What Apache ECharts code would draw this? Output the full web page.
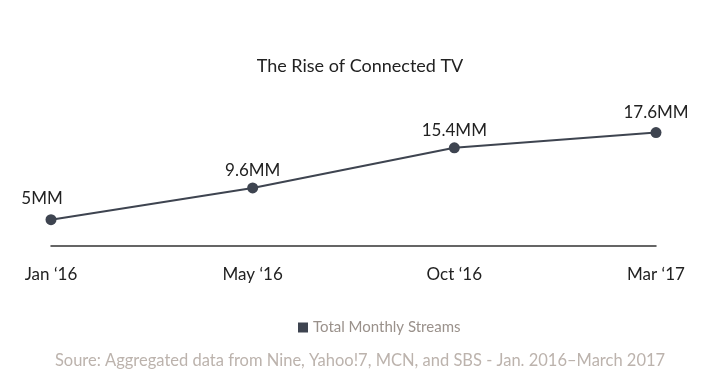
<!DOCTYPE html>
<html>
<head>
<meta charset="utf-8">
<script src="https://cdn.jsdelivr.net/npm/echarts@6/dist/echarts.min.js"></script>
<style>html,body{margin:0;padding:0;background:#fff}#c{width:720px;height:387px}</style>
</head>
<body>
<div id="c"></div>
<script>
const categories = ["Jan \u201816", "May \u201816", "Oct \u201816", "Mar \u201817"];
const streams = [5, 9.6, 15.4, 17.6];
const seriesName = "Total Monthly Streams";
const titleText = "The Rise of Connected TV";
const sourceText = "Soure: Aggregated data from Nine, Yahoo!7, MCN, and SBS - Jan. 2016\u2013March 2017";

const FONT = "Lato, 'Open Sans', sans-serif";
const chart = echarts.init(document.getElementById('c'), null, {renderer: 'canvas'});
chart.setOption({
  animation: false,
  backgroundColor: '#ffffff',
  title: [
    {text: titleText, left: 'center', top: 52,
     textStyle: {fontFamily: FONT, fontSize: 18, fontWeight: 'normal', color: '#222'}},
    {text: sourceText, left: 'center', top: 347,
     textStyle: {fontFamily: FONT, fontSize: 16.5, fontWeight: 'normal', color: '#bcb3ad'}}
  ],
  legend: {
    data: [seriesName], left: 293, top: 315,
    icon: 'rect', itemWidth: 10, itemHeight: 10, itemGap: 9,
    textStyle: {fontFamily: FONT, fontSize: 15, color: '#9a918b'}
  },
  grid: {left: 51, right: 64, top: 116, bottom: 141, containLabel: false},
  xAxis: {
    type: 'category', data: categories, boundaryGap: false,
    axisLine: {lineStyle: {color: '#333', width: 1.5}},
    axisTick: {show: false},
    axisLabel: {fontFamily: FONT, fontSize: 17, color: '#222', margin: 20}
  },
  yAxis: {
    type: 'value', min: 1.2, max: 20,
    show: false, splitLine: {show: false}
  },
  series: [{
    name: seriesName, type: 'line', data: streams,
    symbol: 'circle', symbolSize: 11,
    lineStyle: {color: '#3e4450', width: 2},
    itemStyle: {color: '#3e4450'},
    label: {
      show: true, position: 'top', distance: 3,
      formatter: p => p.value + 'MM',
      fontFamily: FONT, fontSize: 17, color: '#222'
    },
    labelLayout: function (params) {
      if (params.dataIndex === 0) {
        return {dx: -9, dy: -4};
      }
      if (params.dataIndex === 3) {
        return {dy: -3};
      }
      return {};
    }
  }]
});
</script>
</body>
</html>
